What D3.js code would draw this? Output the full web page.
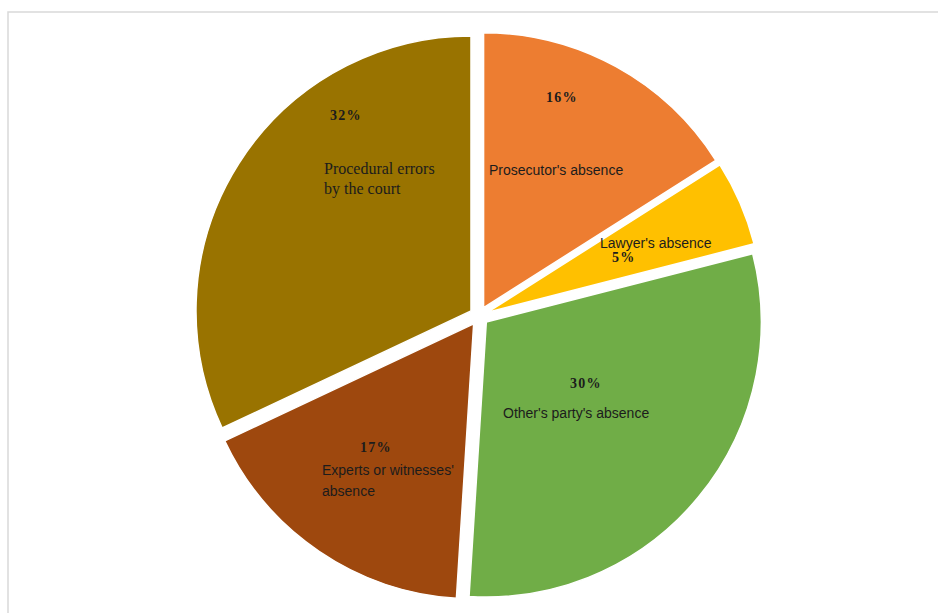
<!DOCTYPE html>
<html>
<head>
<meta charset="utf-8">
<script src="https://cdn.jsdelivr.net/npm/d3@7/dist/d3.min.js"></script>
<style>
  html, body { margin: 0; padding: 0; background: #ffffff; }
  svg { display: block; }
</style>
</head>
<body>
<svg id="chart" width="938" height="613"></svg>
<script>
// Reasons for adjournment, share of cases (clockwise from 12 o'clock)
const categories = [
  "Prosecutor's absence",
  "Lawyer's absence",
  "Other's party's absence",
  "Experts or witnesses' absence",
  "Procedural errors by the court"
];
const values = [16, 5, 30, 17, 32];
const colors = ["#ED7D31", "#FFC000", "#70AD47", "#9E480E", "#997300"];

// Label text, broken into lines as displayed
const nameLines = [
  ["Prosecutor's absence"],
  ["Lawyer's absence"],
  ["Other's party's absence"],
  ["Experts or witnesses'", "absence"],
  ["Procedural errors", "by the court"]
];

// Label placement: left x / baseline y for the value and for the name block
const labelLayout = [
  { pct: [546, 102], name: [489, 175], nameFont: "sans" },
  { pct: [612, 262], name: [600, 248], nameFont: "sans" },
  { pct: [570, 388], name: [503, 418], nameFont: "sans" },
  { pct: [360, 452], name: [322, 475], nameFont: "sans" },
  { pct: [330, 120], name: [324, 174], nameFont: "serif" }
];

const svg = d3.select("#chart");
const W = 938, H = 613;

// chart area frame
svg.append("rect")
  .attr("x", 8).attr("y", 12)
  .attr("width", W + 10).attr("height", H + 10)
  .attr("fill", "#ffffff")
  .attr("stroke", "#d9d9d9")
  .attr("stroke-width", 1.5);

const cx = 479, cy = 316, radius = 275, explode = 9.5;

const pie = d3.pie().sort(null).value(d => d)
  .startAngle(0).endAngle(2 * Math.PI);
const arcs = pie(values);
const arc = d3.arc().innerRadius(0).outerRadius(radius);

const g = svg.append("g").attr("transform", `translate(${cx},${cy})`);

g.selectAll("path.slice")
  .data(arcs)
  .join("path")
  .attr("class", "slice")
  .attr("d", arc)
  .attr("fill", (d, i) => colors[i])
  .attr("stroke", "#ffffff")
  .attr("stroke-width", 1.5)
  .attr("stroke-linejoin", "round")
  .attr("transform", d => {
    const mid = (d.startAngle + d.endAngle) / 2;
    return `translate(${explode * Math.sin(mid)},${-explode * Math.cos(mid)})`;
  });

const total = d3.sum(values);
const labels = svg.append("g");

arcs.forEach((d, i) => {
  const L = labelLayout[i];
  labels.append("text")
    .attr("x", L.pct[0]).attr("y", L.pct[1])
    .attr("font-family", "'Liberation Serif', 'Times New Roman', serif")
    .attr("font-weight", "bold")
    .attr("font-size", 14)
    .attr("letter-spacing", 1.2)
    .attr("fill", "#1c1c1c")
    .text(Math.round(d.value / total * 100) + "%");

  const t = labels.append("text")
    .attr("x", L.name[0]).attr("y", L.name[1])
    .attr("font-family", L.nameFont === "serif"
      ? "'Liberation Serif', 'Times New Roman', serif"
      : "'Liberation Sans', Arial, sans-serif")
    .attr("font-size", L.nameFont === "serif" ? 16 : 14)
    .attr("fill", "#1c1c1c");
  nameLines[i].forEach((line, k) => {
    t.append("tspan")
      .attr("x", L.name[0])
      .attr("dy", k === 0 ? 0 : (L.nameFont === "serif" ? 20 : 21))
      .text(line);
  });
});
</script>
</body>
</html>
